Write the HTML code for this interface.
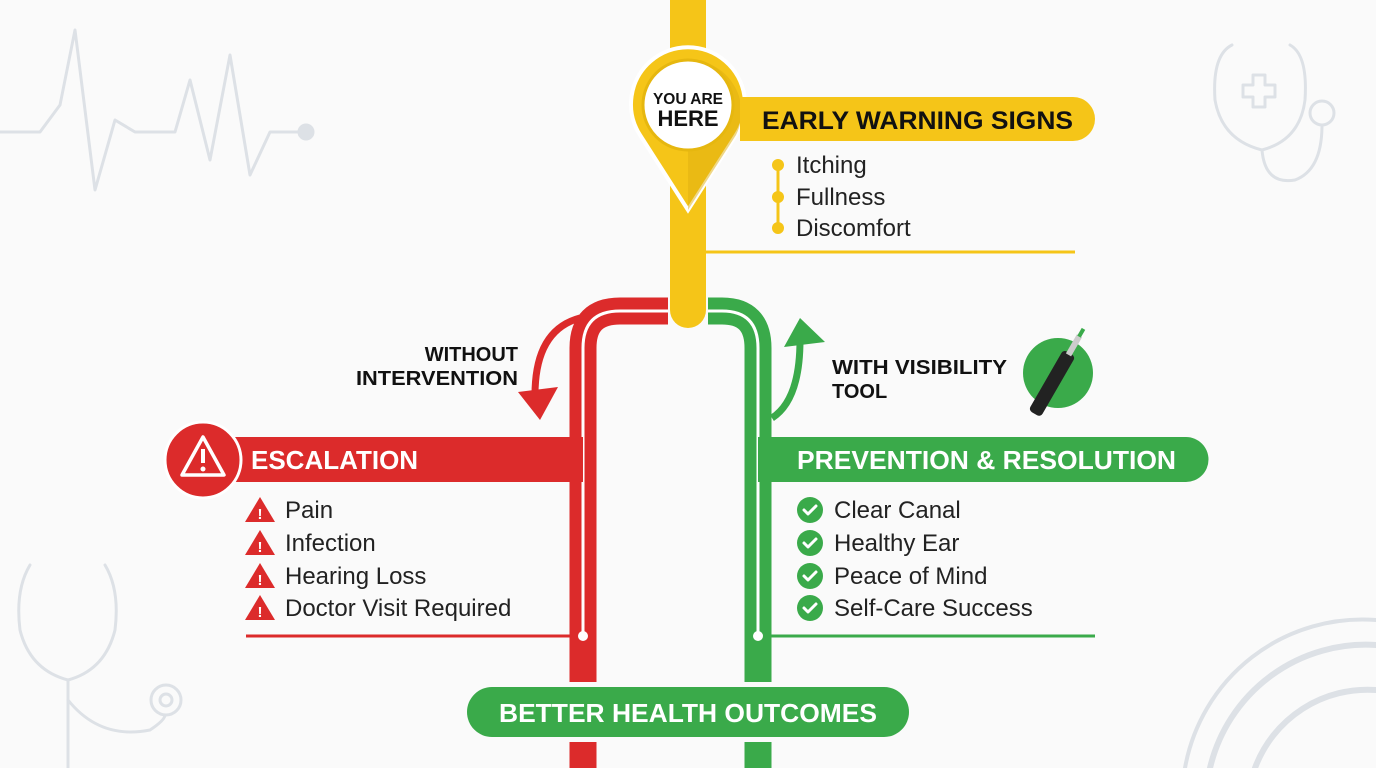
<!DOCTYPE html>
<html><head><meta charset="utf-8"><style>
html,body{margin:0;padding:0;background:#fafafa;}
svg{display:block;font-family:"Liberation Sans",sans-serif;}
</style></head><body>
<svg width="1376" height="768" viewBox="0 0 1376 768" xmlns="http://www.w3.org/2000/svg">
<rect width="1376" height="768" fill="#fafafa"/>
<g fill="none" stroke="#dde1e6" stroke-width="3" stroke-linecap="round" stroke-linejoin="round">
<polyline points="0,132 40,132 60,105 75,30 95,190 115,120 135,132 175,132 190,80 210,160 230,55 250,175 270,132 305,132"/>
<circle cx="306" cy="132" r="7" fill="#dde1e6"/>
<path d="M1232 45 Q1212 55 1215 100 Q1222 140 1262 150 Q1300 140 1305 100 Q1308 55 1290 45"/>
<path d="M1262 150 Q1265 185 1295 180 Q1322 170 1322 125"/>
<circle cx="1322" cy="113" r="12"/>
<path d="M1243 85 h10 v-10 h12 v10 h10 v12 h-10 v10 h-12 v-10 h-10z"/>
<path d="M30 565 Q15 590 20 630 Q30 670 68 680 Q105 670 115 630 Q120 590 105 565"/>
<path d="M68 680 L68 768"/>
<path d="M68 700 Q100 740 150 730 Q165 720 165 715"/>
<circle cx="166" cy="700" r="15"/><circle cx="166" cy="700" r="6"/>
<path d="M1185 768 A180 180 0 0 1 1376 620" stroke-width="4"/>
<path d="M1210 768 A160 160 0 0 1 1376 645" stroke-width="6"/>
<path d="M1255 768 A120 120 0 0 1 1376 690" stroke-width="6"/>
</g>
<rect x="670" y="0" width="36" height="310" fill="#f5c518"/>
<rect x="670" y="280" width="36" height="48" rx="18" fill="#f5c518"/>
<path d="M668 311 H620 Q583 311 583 348 V768" fill="none" stroke="#dc2b2b" stroke-width="27"/>
<path d="M668 311 H620 Q583 311 583 348 V632" fill="none" stroke="#fff" stroke-width="3"/>
<circle cx="583" cy="636" r="5" fill="#fff"/>
<path d="M708 311 H722 Q758 311 758 348 V768" fill="none" stroke="#3aaa4a" stroke-width="27"/>
<path d="M708 311 H722 Q758 311 758 348 V632" fill="none" stroke="#fff" stroke-width="3"/>
<circle cx="758" cy="636" r="5" fill="#fff"/>
<rect x="560" y="682" width="230" height="60" fill="#fafafa"/>
<path d="M688 210 L640 135 A57 57 0 1 1 736 135 Z" fill="#f5c518" stroke="#fff" stroke-width="4"/>
<path d="M688 210 L688 60 A52 52 0 0 1 736 135 Z" fill="#e0b010" opacity="0.5"/>
<circle cx="688" cy="105" r="45" fill="#fff" stroke="#e6b70f" stroke-width="3"/>
<text x="688" y="104" font-size="15.5" font-weight="bold" text-anchor="middle" fill="#111">YOU ARE</text>
<text x="688" y="126" font-size="22" font-weight="bold" text-anchor="middle" fill="#111">HERE</text>
<path d="M740 97 H1073 A22 22 0 0 1 1073 141 H740 Z" fill="#f5c518"/>
<text x="762" y="129" font-size="25" font-weight="bold" fill="#111" textLength="311" lengthAdjust="spacingAndGlyphs">EARLY WARNING SIGNS</text>
<line x1="778" y1="165" x2="778" y2="228" stroke="#f5c518" stroke-width="3"/>
<g fill="#f5c518"><circle cx="778" cy="165" r="6"/><circle cx="778" cy="197" r="6"/><circle cx="778" cy="228" r="6"/></g>
<g font-size="24" fill="#222"><text x="796" y="173">Itching</text><text x="796" y="205">Fullness</text><text x="796" y="236">Discomfort</text></g>
<line x1="706" y1="252" x2="1075" y2="252" stroke="#f5c518" stroke-width="3"/>
<path d="M580 318 Q535 330 535 395" fill="none" stroke="#dc2b2b" stroke-width="7"/>
<path d="M518 392 L540 420 L558 387 Z" fill="#dc2b2b"/>
<path d="M772 418 Q800 400 800 340" fill="none" stroke="#3aaa4a" stroke-width="7"/>
<path d="M784 347 L800 318 L825 342 Z" fill="#3aaa4a"/>
<g font-size="20" font-weight="bold" fill="#111">
<text x="518" y="361" text-anchor="end">WITHOUT</text><text x="518" y="385" text-anchor="end" textLength="162" lengthAdjust="spacingAndGlyphs">INTERVENTION</text>
<text x="832" y="374" textLength="175" lengthAdjust="spacingAndGlyphs">WITH VISIBILITY</text><text x="832" y="398">TOOL</text></g>
<circle cx="1058" cy="373" r="35" fill="#3aaa4a"/>
<g transform="rotate(30 1058 373)"><rect x="1051" y="350" width="14" height="70" rx="4" fill="#222"/><rect x="1055" y="330" width="6" height="22" fill="#ccc"/><rect x="1056" y="322" width="4" height="9" fill="#3aaa4a"/></g>
<rect x="210" y="437" width="373" height="45" fill="#dc2b2b"/>
<circle cx="203" cy="460" r="38" fill="#dc2b2b" stroke="#fff" stroke-width="3"/>
<path d="M203 437 L224 475 H182 Z" fill="none" stroke="#fff" stroke-width="3.5" stroke-linejoin="round"/>
<rect x="201" y="449" width="4" height="14" fill="#fff"/><circle cx="203" cy="469" r="2.5" fill="#fff"/>
<text x="251" y="469" font-size="26" font-weight="bold" fill="#fff">ESCALATION</text>
<g font-size="24" fill="#222"><text x="285" y="518">Pain</text><text x="285" y="551">Infection</text><text x="285" y="584">Hearing Loss</text><text x="285" y="616">Doctor Visit Required</text></g>
<g fill="#dc2b2b">
<path d="M260 497 L275 522 H245 Z"/><path d="M260 530 L275 555 H245 Z"/><path d="M260 563 L275 588 H245 Z"/><path d="M260 595 L275 620 H245 Z"/></g>
<g font-size="15" font-weight="bold" fill="#fff" text-anchor="middle"><text x="260" y="519">!</text><text x="260" y="552">!</text><text x="260" y="585">!</text><text x="260" y="617">!</text></g>
<line x1="246" y1="636" x2="570" y2="636" stroke="#dc2b2b" stroke-width="3"/>
<path d="M758 437 H1186 A22.5 22.5 0 0 1 1186 482 H758 Z" fill="#3aaa4a"/>
<text x="797" y="469" font-size="26" font-weight="bold" fill="#fff" textLength="379" lengthAdjust="spacingAndGlyphs">PREVENTION &amp; RESOLUTION</text>
<g fill="#3aaa4a"><circle cx="810" cy="510" r="13"/><circle cx="810" cy="543" r="13"/><circle cx="810" cy="576" r="13"/><circle cx="810" cy="608" r="13"/></g>
<g fill="none" stroke="#fff" stroke-width="3" stroke-linecap="round" stroke-linejoin="round">
<path d="M804 510 l4 4 l8 -8"/><path d="M804 543 l4 4 l8 -8"/><path d="M804 576 l4 4 l8 -8"/><path d="M804 608 l4 4 l8 -8"/></g>
<g font-size="24" fill="#222"><text x="834" y="518">Clear Canal</text><text x="834" y="551">Healthy Ear</text><text x="834" y="584">Peace of Mind</text><text x="834" y="616">Self-Care Success</text></g>
<line x1="770" y1="636" x2="1095" y2="636" stroke="#3aaa4a" stroke-width="3"/>
<rect x="467" y="687" width="442" height="50" rx="25" fill="#3aaa4a"/>
<text x="499" y="722" font-size="26" font-weight="bold" fill="#fff" textLength="378" lengthAdjust="spacingAndGlyphs">BETTER HEALTH OUTCOMES</text>
</svg>
</body></html>
